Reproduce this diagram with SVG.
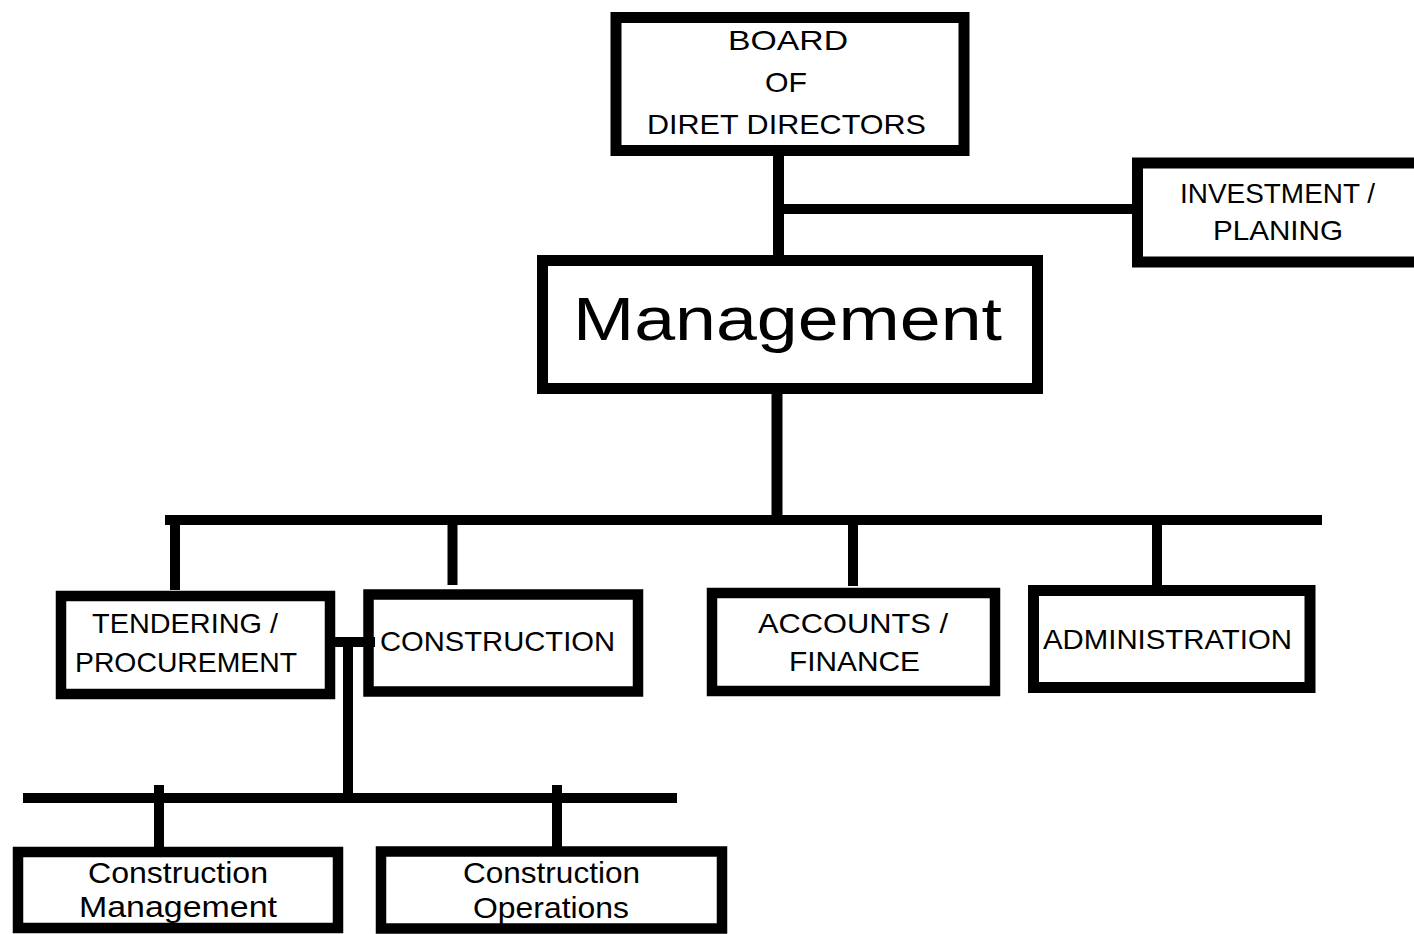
<svg xmlns="http://www.w3.org/2000/svg" width="1414" height="934" viewBox="0 0 1414 934">
<style>
.box{fill:#fff;stroke:#000;stroke-width:11}
.ln{stroke:#000;stroke-width:10;fill:none}
text{font-family:"Liberation Sans",Arial,sans-serif;fill:#000;font-size:28px}
.sm{font-size:29px}
.big{font-size:62px}
</style>
<rect width="1414" height="934" fill="#fff"/>
<g id="connectors">
<line class="ln" x1="778.5" y1="150" x2="778.5" y2="262" style="stroke-width:11"/>
<line class="ln" x1="778" y1="209" x2="1135" y2="209"/>
<line class="ln" x1="777" y1="390" x2="777" y2="520" style="stroke-width:11"/>
<line class="ln" x1="165" y1="520" x2="1322" y2="520"/>
<line class="ln" x1="175" y1="520" x2="175" y2="590"/>
<line class="ln" x1="452.5" y1="520" x2="452.5" y2="585"/>
<line class="ln" x1="853" y1="520" x2="853" y2="586"/>
<line class="ln" x1="1157" y1="520" x2="1157" y2="586"/>
<line class="ln" x1="325" y1="642" x2="375" y2="642"/>
<line class="ln" x1="348" y1="637" x2="348" y2="798"/>
<line class="ln" x1="23" y1="798" x2="677" y2="798"/>
<line class="ln" x1="159" y1="785" x2="159" y2="850"/>
<line class="ln" x1="557" y1="785" x2="557" y2="850"/>
</g>
<g id="board">
<rect class="box" x="616" y="17.5" width="348" height="133"/>
<text x="728" y="50" textLength="120" lengthAdjust="spacingAndGlyphs">BOARD</text>
<text x="765" y="92" textLength="42" lengthAdjust="spacingAndGlyphs">OF</text>
<text x="647" y="134" textLength="279" lengthAdjust="spacingAndGlyphs">DIRET DIRECTORS</text>
</g>
<g id="investment">
<rect class="box" x="1137.5" y="163" width="300" height="99"/>
<text x="1180" y="203" textLength="195" lengthAdjust="spacingAndGlyphs">INVESTMENT /</text>
<text x="1213" y="240" textLength="130" lengthAdjust="spacingAndGlyphs">PLANING</text>
</g>
<g id="management">
<rect class="box" x="542.5" y="260.5" width="495" height="128"/>
<text class="big" x="573" y="340" textLength="429" lengthAdjust="spacingAndGlyphs">Management</text>
</g>
<g id="tendering">
<rect class="box" x="61" y="596" width="269" height="98" style="stroke-width:10.5"/>
<text x="92" y="633" textLength="186" lengthAdjust="spacingAndGlyphs">TENDERING /</text>
<text x="75" y="672" textLength="222" lengthAdjust="spacingAndGlyphs">PROCUREMENT</text>
</g>
<g id="construction">
<rect class="box" x="368.5" y="594.5" width="269.5" height="97" style="stroke-width:10.5"/>
<text x="380" y="651" textLength="235" lengthAdjust="spacingAndGlyphs">CONSTRUCTION</text>
</g>
<line class="ln" x1="325" y1="642" x2="375" y2="642"/>
<g id="accounts">
<rect class="box" x="712" y="593" width="283" height="98" style="stroke-width:10.5"/>
<text x="758" y="633" textLength="190" lengthAdjust="spacingAndGlyphs">ACCOUNTS /</text>
<text x="789" y="671" textLength="131" lengthAdjust="spacingAndGlyphs">FINANCE</text>
</g>
<g id="administration">
<rect class="box" x="1033.5" y="590.5" width="276.5" height="97"/>
<text x="1043" y="649" textLength="249" lengthAdjust="spacingAndGlyphs">ADMINISTRATION</text>
</g>
<g id="construction-management">
<rect class="box" x="18" y="852" width="320" height="76" style="stroke-width:10.5"/>
<text class="sm" x="88" y="883" textLength="180" lengthAdjust="spacingAndGlyphs">Construction</text>
<text class="sm" x="79" y="917" textLength="198" lengthAdjust="spacingAndGlyphs">Management</text>
</g>
<g id="construction-operations">
<rect class="box" x="381" y="851.5" width="341" height="77" style="stroke-width:10.5"/>
<text class="sm" x="463" y="883" textLength="177" lengthAdjust="spacingAndGlyphs">Construction</text>
<text class="sm" x="473" y="918" textLength="156" lengthAdjust="spacingAndGlyphs">Operations</text>
</g>
</svg>
